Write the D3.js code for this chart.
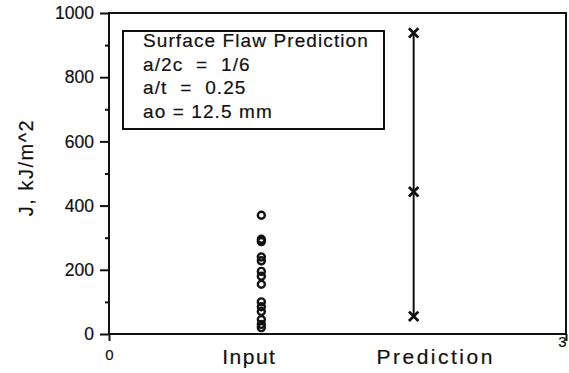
<!DOCTYPE html>
<html>
<head>
<meta charset="utf-8">
<script src="https://cdn.jsdelivr.net/npm/d3@7"></script>
<style>
  body { margin: 0; background: #fff; }
  svg { font-family: "Liberation Sans", Arial, sans-serif; }
  svg text { stroke: #111; stroke-width: 0.2px; }
</style>
</head>
<body>
<svg id="chart" width="569" height="373"></svg>
<script>
const categories = ["Input", "Prediction"];
const categoryPos = [1, 2];
const inputValues = [370, 295, 288, 240, 228, 195, 180, 155, 100, 85, 70, 45, 30, 20];
const predictionValues = [55, 443, 938];
const yTicks = [0, 200, 400, 600, 800, 1000];
const yMinorTicks = [100, 300, 500, 700, 900];
const boxLines = ["Surface Flaw Prediction", "a/2c  =  1/6", "a/t  =  0.25", "ao = 12.5 mm"];

const svg = d3.select("svg#chart");
const ink = "#111";

const x = d3.scaleLinear([0, 3], [109, 566]);
const y = d3.scaleLinear([0, 1000], [334, 13]);

// frame
svg.append("rect")
	.attr("x", x(0))
	.attr("y", y(1000))
	.attr("width", x(3) - x(0))
	.attr("height", y(0) - y(1000))
	.attr("fill", "none")
	.attr("stroke", ink)
	.attr("stroke-width", 2);

// y axis
const yAxis = svg.append("g")
	.attr("transform", `translate(${x(0)},0)`)
	.call(d3.axisLeft(y).tickValues(yTicks).tickSize(9).tickPadding(6).tickFormat(d3.format("d")))
	.call((g) => g.select(".domain").remove());
yAxis.selectAll("line").attr("stroke", ink).attr("stroke-width", 2);
yAxis.selectAll("text")
	.attr("fill", ink)
	.style("font-size", "17.5px")
	.style("font-family", "Liberation Sans, Arial, sans-serif");

const yMinor = svg.append("g")
	.attr("transform", `translate(${x(0)},0)`)
	.call(d3.axisLeft(y).tickValues(yMinorTicks).tickSize(4).tickFormat(""))
	.call((g) => g.select(".domain").remove());
yMinor.selectAll("line").attr("stroke", ink).attr("stroke-width", 2);

// x axis end ticks
const xAxis = svg.append("g")
	.attr("transform", `translate(0,${y(0)})`)
	.call(d3.axisBottom(x).tickValues([0, 3]).tickSize(7).tickPadding(8).tickFormat(d3.format("d")))
	.call((g) => g.select(".domain").remove());
xAxis.selectAll("line").attr("stroke", ink).attr("stroke-width", 2);
xAxis.selectAll("text")
	.attr("fill", ink)
	.style("font-size", "15px")
	.style("font-family", "Liberation Sans, Arial, sans-serif");
xAxis.selectAll(".tick")
	.filter((d) => d === 3)
	.select("text")
	.attr("text-anchor", "end")
	.attr("dx", "0")
	.attr("y", 2);

// category labels
const labelShift = { Input: -12, Prediction: 22 };
svg.append("g")
	.selectAll("text")
	.data(categories)
	.join("text")
	.attr("x", (d, i) => x(categoryPos[i]) + labelShift[d])
	.attr("y", 364)
	.attr("text-anchor", "middle")
	.attr("fill", ink)
	.style("font-size", "21px")
	.style("letter-spacing", (d) => (d === "Prediction" ? "2.5px" : "1.5px"))
	.text((d) => d);

// y axis title
svg.append("text")
	.attr("transform", `translate(33,${(y(0) + y(1000)) / 2 - 6}) rotate(-90)`)
	.attr("text-anchor", "middle")
	.attr("fill", ink)
	.style("font-size", "20px")
	.style("letter-spacing", "1.5px")
	.text("J,  kJ/m^2");

// input circles
svg.append("g")
	.selectAll("circle")
	.data(inputValues)
	.join("circle")
	.attr("cx", x(categoryPos[0]))
	.attr("cy", (d) => y(d))
	.attr("r", 3.5)
	.attr("fill", "none")
	.attr("stroke", ink)
	.attr("stroke-width", 2.4);

// prediction range
svg.append("line")
	.attr("x1", x(categoryPos[1]))
	.attr("x2", x(categoryPos[1]))
	.attr("y1", y(d3.min(predictionValues)))
	.attr("y2", y(d3.max(predictionValues)))
	.attr("stroke", ink)
	.attr("stroke-width", 2);

svg.append("g")
	.selectAll("path")
	.data(predictionValues)
	.join("path")
	.attr("transform", (d) => `translate(${x(categoryPos[1])},${y(d)})`)
	.attr("d", d3.symbol(d3.symbolX, 60))
	.attr("fill", "none")
	.attr("stroke", ink)
	.attr("stroke-width", 2.8);

// annotation box
const box = svg.append("g");
box.append("rect")
	.attr("x", 123)
	.attr("y", 31)
	.attr("width", 261)
	.attr("height", 98)
	.attr("fill", "#fff")
	.attr("stroke", ink)
	.attr("stroke-width", 2);
box.selectAll("text")
	.data(boxLines)
	.join("text")
	.attr("x", 143)
	.attr("y", (d, i) => 47 + i * 23.7)
	.attr("fill", ink)
	.style("font-size", "19px")
	.style("letter-spacing", "1.1px")
	.style("white-space", "pre")
	.text((d) => d);
</script>
</body>
</html>
